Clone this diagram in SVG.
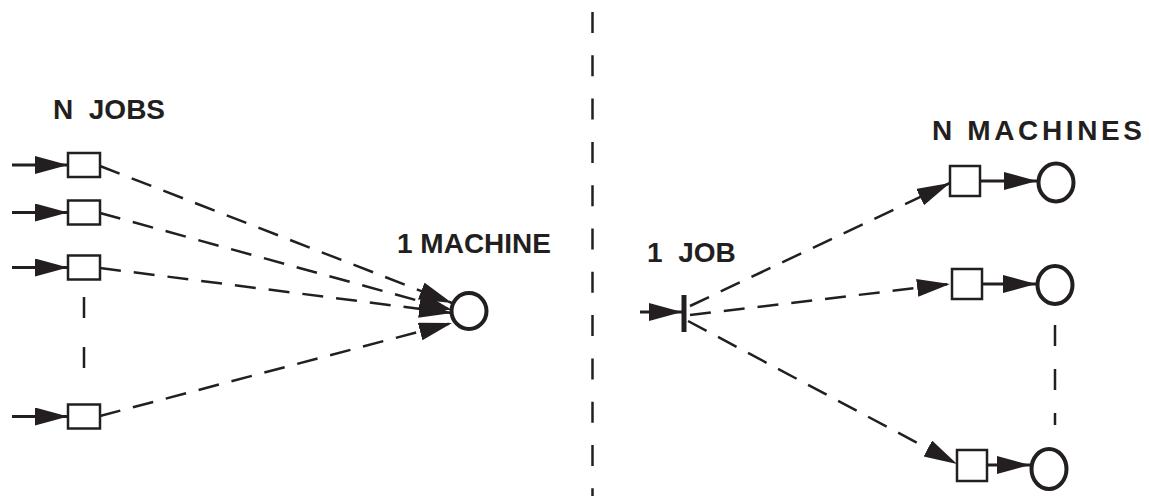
<svg xmlns="http://www.w3.org/2000/svg" width="1149" height="496" viewBox="0 0 1149 496">
<style>
.lbl{font-family:"Liberation Sans",Arial,sans-serif;font-weight:bold;font-size:28px;fill:#231f20}
.box{fill:#fff;stroke:#231f20;stroke-width:2.5}
.circ{fill:none;stroke:#231f20;stroke-width:4}
.solid{stroke:#231f20;stroke-width:3.2;fill:none}
.dash{stroke:#231f20;stroke-width:2.5;fill:none;stroke-dasharray:21 13}
.vdash{stroke:#231f20;stroke-width:2.5;fill:none;stroke-dasharray:21 22.3}
</style>
<defs>
<marker id="ah" markerUnits="userSpaceOnUse" markerWidth="36" markerHeight="20" refX="33" refY="9" orient="auto" viewBox="0 0 36 20">
<path d="M0,0 L33,9 L0,18 z" fill="#231f20" stroke="none"/>
</marker>
</defs>
<rect width="1149" height="496" fill="#fff"/>
<g id="divider">
<line class="vdash" x1="592.5" y1="12" x2="592.5" y2="496"/>
</g>
<g id="labels">
<text class="lbl" x="53" y="119" xml:space="preserve">N  JOBS</text>
<text class="lbl" x="397" y="253">1 MACHINE</text>
<text class="lbl" x="647" y="262" xml:space="preserve">1  JOB</text>
<text class="lbl" x="932" y="140" textLength="210" lengthAdjust="spacing">N MACHINES</text>
</g>
<g id="connectors">
<line class="solid" x1="12" y1="165" x2="68" y2="165" marker-end="url(#ah)"/>
<line class="solid" x1="12" y1="212.5" x2="68" y2="212.5" marker-end="url(#ah)"/>
<line class="solid" x1="12" y1="267.5" x2="68" y2="267.5" marker-end="url(#ah)"/>
<line class="solid" x1="12" y1="416.5" x2="68" y2="416.5" marker-end="url(#ah)"/>
<line class="dash" x1="100" y1="166" x2="452" y2="303" marker-end="url(#ah)"/>
<line class="dash" x1="100" y1="213" x2="452" y2="310" marker-end="url(#ah)"/>
<line class="dash" x1="100" y1="268" x2="452" y2="313" marker-end="url(#ah)"/>
<line class="dash" x1="100" y1="416" x2="452" y2="323" marker-end="url(#ah)"/>
<line class="vdash" x1="84" y1="297" x2="84" y2="395" style="stroke-dasharray:21 29"/>
<line class="solid" x1="640" y1="312" x2="682" y2="312" marker-end="url(#ah)"/>
<line class="dash" x1="690" y1="306" x2="950" y2="183" marker-end="url(#ah)"/>
<line class="dash" x1="690" y1="315" x2="950" y2="284" marker-end="url(#ah)"/>
<line class="dash" x1="688" y1="321" x2="957" y2="464" marker-end="url(#ah)"/>
<line class="solid" x1="980" y1="181" x2="1037" y2="181" marker-end="url(#ah)"/>
<line class="solid" x1="982" y1="284" x2="1036" y2="284" marker-end="url(#ah)"/>
<line class="solid" x1="987" y1="465" x2="1030" y2="465" marker-end="url(#ah)"/>
<line class="vdash" x1="1055" y1="325" x2="1055" y2="425" style="stroke-dasharray:21 23"/>
</g>
<g id="job1"><rect class="box" x="68" y="153" width="32" height="24"/></g>
<g id="job2"><rect class="box" x="68" y="200.5" width="32" height="24"/></g>
<g id="job3"><rect class="box" x="68" y="255.5" width="32" height="24"/></g>
<g id="jobN"><rect class="box" x="68" y="404.5" width="32" height="24"/></g>
<g id="machine"><ellipse class="circ" cx="469" cy="311" rx="17.5" ry="18"/></g>
<g id="job"><line x1="684" y1="295" x2="684" y2="332" stroke="#231f20" stroke-width="5"/></g>
<g id="queue1"><rect class="box" x="950" y="166" width="30" height="30"/></g>
<g id="machine1"><ellipse class="circ" cx="1056" cy="182.5" rx="17.5" ry="19"/></g>
<g id="queue2"><rect class="box" x="952" y="269" width="30" height="30"/></g>
<g id="machine2"><ellipse class="circ" cx="1055" cy="285" rx="17.5" ry="19"/></g>
<g id="queue3"><rect class="box" x="957" y="450" width="30" height="31"/></g>
<g id="machine3"><ellipse class="circ" cx="1049" cy="469" rx="17.5" ry="20"/></g>
</svg>
